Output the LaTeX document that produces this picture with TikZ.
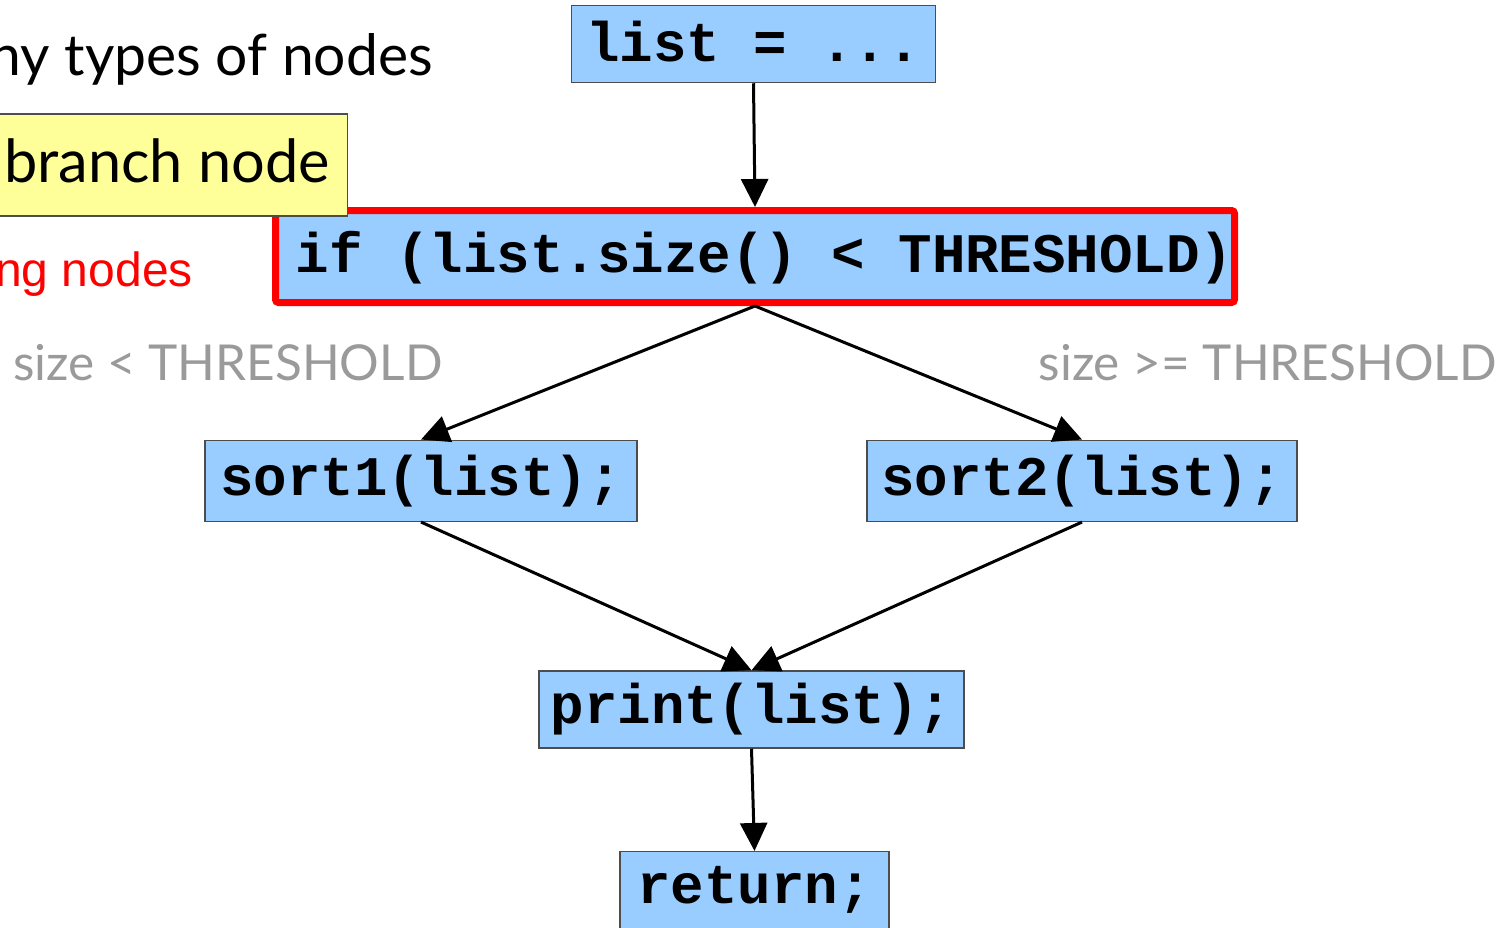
\documentclass[tikz,border=0pt]{standalone}
\usepackage{fontspec}
\usetikzlibrary{arrows.meta}
\newfontfamily\latofont{Lato}
\newfontfamily\arialfont{Liberation Sans}
\newfontfamily\codefont{Liberation Mono}
\definecolor{codeblue}{HTML}{99CCFF}
\definecolor{boxgray}{HTML}{4D4D4D}
\definecolor{notegold}{HTML}{FFFF99}
\definecolor{labelgray}{HTML}{9A9A9A}
\definecolor{hired}{HTML}{FF0000}
\begin{document}
\begin{tikzpicture}[x=1pt,y=-1pt,
  stmt/.style={draw=boxgray, line width=1.5pt, fill=codeblue, inner sep=0pt,
    font=\codefont\bfseries\fontsize{55.8}{60}\selectfont},
  branchbox/.style={stmt, draw=hired, line width=7pt, rounded corners=3pt},
  flow/.style={draw=black, line width=3pt, -{Triangle[length=28pt,width=27pt]}},
  bigtext/.style={inner sep=0pt, font=\latofont\fontsize{57}{62}\selectfont},
  condlabel/.style={inner sep=0pt, text=labelgray, font=\latofont\fontsize{49.5}{56}\selectfont}]
\useasboundingbox (0,0) rectangle (1504,927);

% statements of the flow graph
\node[stmt, minimum width=364pt, minimum height=77pt, text height=56pt, text depth=21pt]
  (list) at (753.5,44) {list = ...};
\node[branchbox, minimum width=959pt, minimum height=92pt, text height=61.5pt, text depth=30.5pt,
  text width=957pt, align=flush right, inner xsep=1pt]
  (cond) at (755,256.5) {if (list.size() < THRESHOLD)};
\node[stmt, minimum width=432pt, minimum height=81pt, text height=55pt, text depth=26pt]
  (sortA) at (421,480.8) {sort1(list);};
\node[stmt, minimum width=430pt, minimum height=81pt, text height=55pt, text depth=26pt]
  (sortB) at (1082,480.8) {sort2(list);};
\node[stmt, minimum width=425pt, minimum height=77pt, text height=52pt, text depth=25pt]
  (print) at (751.5,709.5) {print(list);};
\node[stmt, minimum width=269pt, minimum height=80pt, text height=51.3pt, text depth=28.7pt]
  (ret) at (754.5,891.7) {return;};

% edges
\draw[flow] (list.south) -- (cond.north);
\draw[flow] (cond.south) -- (sortA.north);
\draw[flow] (cond.south) -- (sortB.north);
\draw[flow] (sortA.south) -- (print.north);
\draw[flow] (sortB.south) -- (print.north);
\draw[flow] (print.south) -- (ret.north);

% branch labels
\node[condlabel, anchor=base west] (lblLess) at (13,380) {size < THRESHOLD};
\node[condlabel, anchor=base east] (lblMore) at (1497,380) {size >= THRESHOLD};

% side notes
\node[bigtext, anchor=base east] (title) at (433,75) {many types of nodes};
\node[bigtext, font=\latofont\fontsize{59.5}{64}\selectfont, draw=boxgray, line width=1.5pt,
  fill=notegold, anchor=east, text width=368pt, align=flush left, inner xsep=0pt,
  text height=68pt, text depth=34pt]
  (note) at (348,165) {\hspace*{25pt}branch node};
\node[inner sep=0pt, text=hired, font=\arialfont\fontsize{48}{54}\selectfont, anchor=base east]
  (redNote) at (193,286) {ng nodes};
\end{tikzpicture}
\end{document}
